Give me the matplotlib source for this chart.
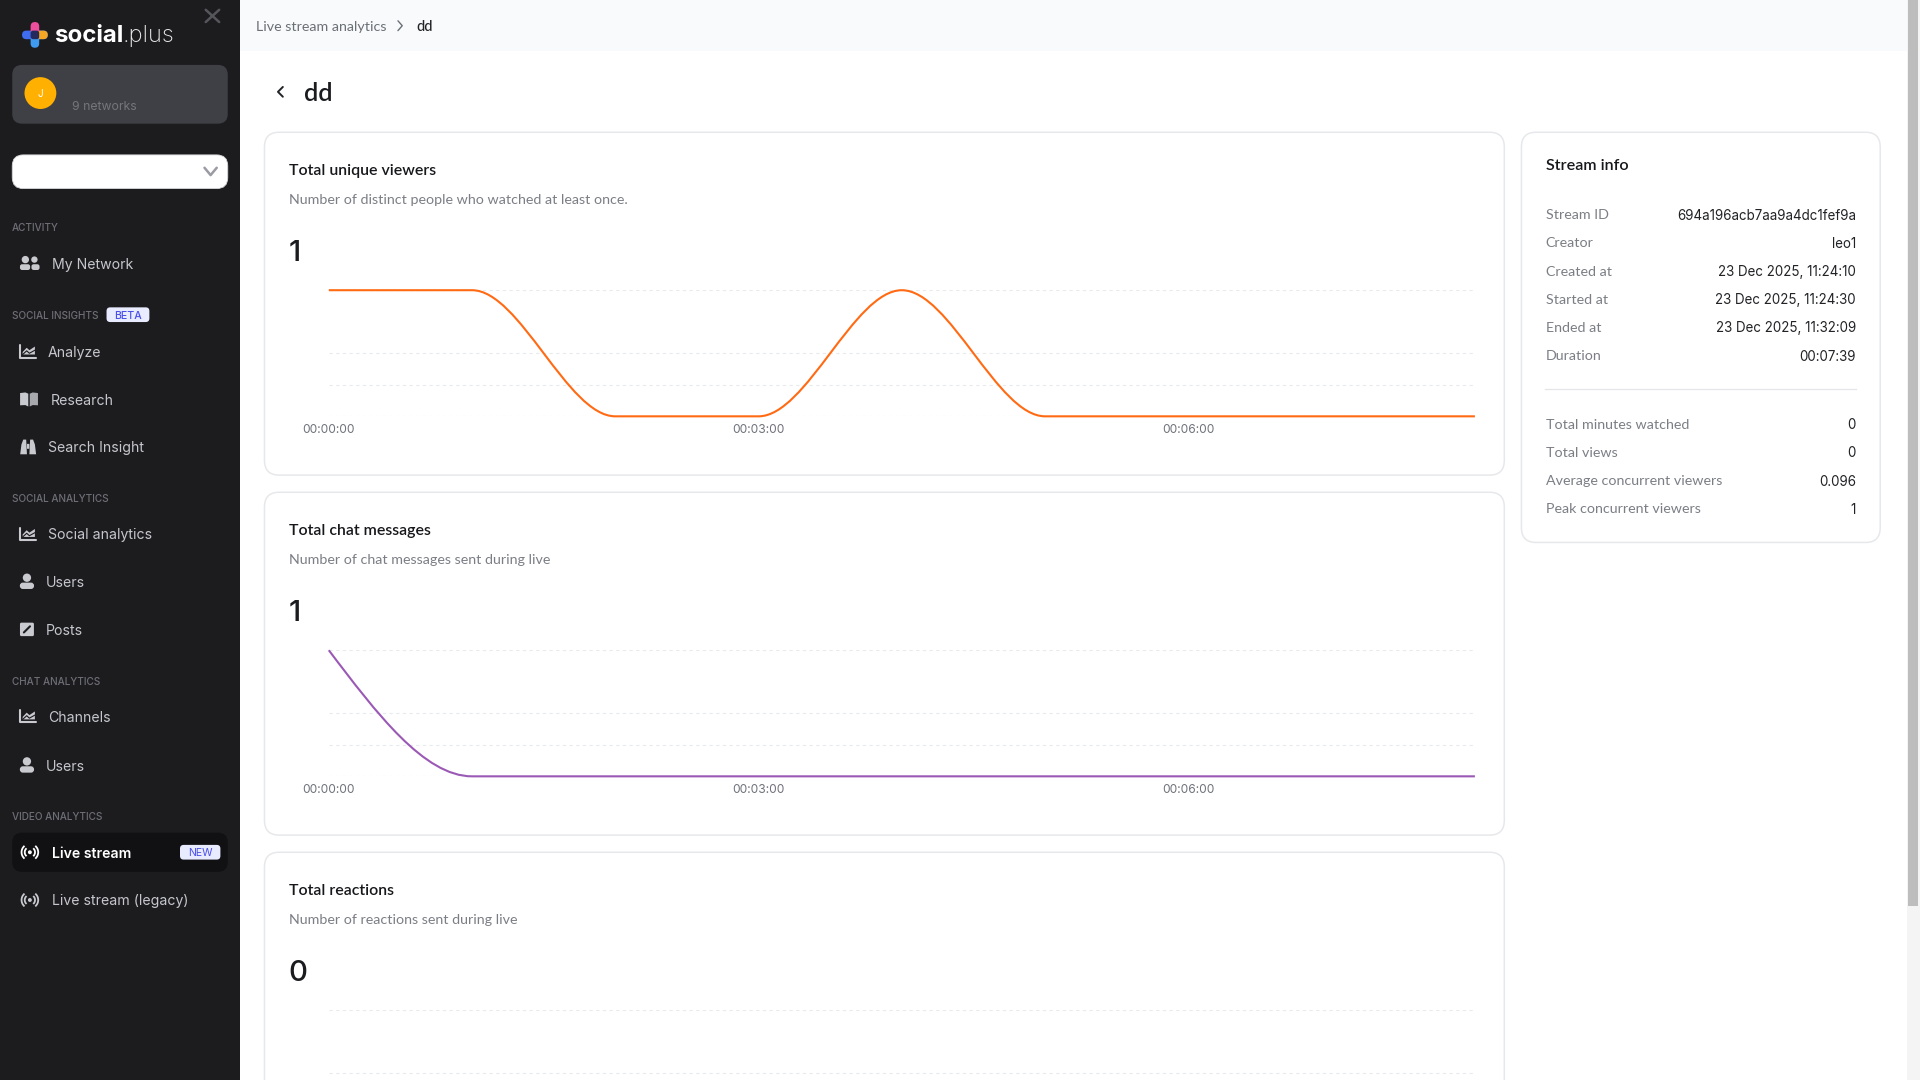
import matplotlib
matplotlib.use('Agg')
import matplotlib.pyplot as plt
from matplotlib.patches import FancyBboxPatch, Circle, Rectangle, PathPatch, Arc, Polygon
from matplotlib.path import Path

# ---------------------------------------------------------------------
# Data
# ---------------------------------------------------------------------
elapsed_s = [0, 60, 120, 180, 240, 300, 360, 420, 480]
viewers = [1, 1, 0, 0, 1, 0, 0, 0, 0]
chat_messages = [1, 0, 0, 0, 0, 0, 0, 0, 0]
reactions = [0, 0, 0, 0, 0, 0, 0, 0, 0]

tick_pos = [0, 180, 360]
tick_labels = ['00:00:00', '00:03:00', '00:06:00']
grid_levels = [0, 0.25, 0.5, 1]

card_titles = ['Total unique viewers', 'Total chat messages', 'Total reactions']
card_subtitles = ['Number of distinct people who watched at least once.',
                  'Number of chat messages sent during live',
                  'Number of reactions sent during live']
card_totals = ['1', '1', '0']

info_labels = ['Stream ID', 'Creator', 'Created at', 'Started at', 'Ended at', 'Duration']
info_values = ['694a196acb7aa9a4dc1fef9a', 'leo1', '23 Dec 2025, 11:24:10',
               '23 Dec 2025, 11:24:30', '23 Dec 2025, 11:32:09', '00:07:39']
stat_labels = ['Total minutes watched', 'Total views', 'Average concurrent viewers',
               'Peak concurrent viewers']
stat_values = ['0', '0', '0.096', '1']

# ---------------------------------------------------------------------
# Page coordinates: the layout is measured on a 1568 x 882 grid
# ---------------------------------------------------------------------
W, H = 1568, 882
SIDE = ['Inter', 'DejaVu Sans']
MAIN = ['Lato', 'DejaVu Sans']
DARK = '#1c1c1f'


def fs(px):
    return px * (1920 / W) * 72 / 100


fig = plt.figure(figsize=(19.2, 10.8), dpi=100, facecolor='white')
page = fig.add_axes([0, 0, 1, 1], zorder=0)
page.set_xlim(0, W)
page.set_ylim(H, 0)
page.axis('off')


def box(x0, y0, x1, y1, r, fc, ec='none', lw=0, z=1):
    page.add_patch(FancyBboxPatch((x0, y0), x1 - x0, y1 - y0,
                                  boxstyle=f'round,pad=0,rounding_size={r}',
                                  fc=fc, ec=ec, lw=lw, zorder=z))


def label(x, y, s, size, color, family=MAIN, weight='normal', ha='left'):
    page.text(x, y, s, fontsize=fs(size), color=color, family=family,
              weight=weight, ha=ha, va='center_baseline', zorder=5)


def stroke(xs, ys, color, lw=1.2, z=4):
    page.plot(xs, ys, color=color, lw=lw, solid_capstyle='round',
              solid_joinstyle='round', zorder=z)


# ---------------------------------------------------------------------
# Sidebar
# ---------------------------------------------------------------------
page.add_patch(Rectangle((0, 0), 196, H, fc=DARK, ec='none', zorder=1))
page.add_patch(Rectangle((196, 0), 1361, 42, fc='#f9fafb', ec='none', zorder=1))

# logo
box(18, 25, 39, 32, 3.5, '#3f6cf0', z=3)
box(29, 25, 39, 32, 3.5, '#f5a623', z=3)
box(25, 18, 32, 28, 3.5, '#ee4f9c', z=3)
box(25, 29, 32, 39, 3.5, '#3f9bf0', z=3)
box(25, 25, 32, 32, 2, '#252a5c', z=4)
label(44, 27, 'social', 19.6, 'white', SIDE, weight='bold')
label(100.5, 27, '.plus', 19.3, '#e8e8e8', SIDE, weight='light')
stroke([168, 179], [8, 18], '#55565b', 1.8)
stroke([179, 168], [8, 18], '#55565b', 1.8)

# account and network selector
box(10, 53, 186, 101, 8, '#3f4045', z=2)
page.add_patch(Circle((33, 76), 13, fc='#ffb000', ec='none', zorder=3))
label(33, 76, 'J', 8, 'white', SIDE, ha='center')
label(58.5, 86, '9 networks', 10, '#75767c', SIDE)
box(10, 126.5, 186, 154, 9, 'white', ec='#d5d6da', lw=0.6, z=2)
stroke([167, 172, 177], [137, 143, 137], '#9a9ba3', 1.8)

section_labels = [(185, 'ACTIVITY'), (257, 'SOCIAL INSIGHTS'), (407, 'SOCIAL ANALYTICS'),
                  (556, 'CHAT ANALYTICS'), (666, 'VIDEO ANALYTICS')]
for y, s in section_labels:
    label(10, y, s, 8.2, '#6e6f76', SIDE, weight='medium')

box(87, 251, 122, 263, 3, '#e9ebff', z=2)
label(104.5, 257, 'BETA', 8.6, '#4a50e8', SIDE, ha='center', weight='medium')

ICON = '#c9cacf'


def icon_people(y):
    cx = 24.3
    for dx, r in ((-3.6, 3), (3.8, 2.6)):
        page.add_patch(Circle((cx + dx, y - 3), r, fc=ICON, ec='none', zorder=4))
    box(cx - 8, y + 0.8, cx + 0.3, y + 5.5, 1.8, ICON, z=4)
    box(cx + 1.4, y + 0.8, cx + 8, y + 5.5, 1.8, ICON, z=4)


def icon_user(y):
    cx = 22
    page.add_patch(Circle((cx, y - 3.2), 3.4, fc=ICON, ec='none', zorder=4))
    box(cx - 5.8, y + 0.8, cx + 5.8, y + 6, 2.5, ICON, z=4)


def icon_chart(y):
    cx = 23
    stroke([cx - 6.3, cx - 6.3, cx + 6.5], [y - 5, y + 5, y + 5], ICON, 1.5)
    page.add_patch(Polygon([(cx - 4.5, y + 2.5), (cx - 4.5, y + 0.5), (cx - 1.2, y - 3), (cx + 1, y - 1),
                            (cx + 5.5, y - 4), (cx + 5.5, y + 2.5)], fc=ICON, ec='none', zorder=4))
    stroke([cx - 4.5, cx - 1.2, cx + 1, cx + 5.5], [y + 2.5, y - 0.5, y + 1.5, y - 1], DARK, 0.8, z=5)


def icon_book(y):
    cx = 23.7
    page.add_patch(Polygon([(cx - 7.3, y - 5), (cx - 3, y - 5.5), (cx - 0.6, y - 4.5), (cx - 0.6, y + 6),
                            (cx - 3, y + 4.8), (cx - 7.3, y + 5)], fc=ICON, ec='none', zorder=4))
    page.add_patch(Polygon([(cx + 7.3, y - 5), (cx + 3, y - 5.5), (cx + 0.6, y - 4.5), (cx + 0.6, y + 6),
                            (cx + 3, y + 4.8), (cx + 7.3, y + 5)], fc='#a8a9ae', ec='none', zorder=4))


def icon_binoculars(y):
    cx = 23
    page.add_patch(Polygon([(cx - 6.5, y + 6), (cx - 5.5, y - 2), (cx - 4, y - 6), (cx - 1.6, y - 6),
                            (cx - 1, y + 6)], fc=ICON, ec='none', zorder=4))
    page.add_patch(Polygon([(cx + 6.5, y + 6), (cx + 5.5, y - 2), (cx + 4, y - 6), (cx + 1.6, y - 6),
                            (cx + 1, y + 6)], fc=ICON, ec='none', zorder=4))
    box(cx - 1, y - 2.5, cx + 1, y + 1.5, 0.3, ICON, z=4)


def icon_edit(y):
    cx = 22
    box(cx - 5.7, y - 5.5, cx + 5.7, y + 5.5, 1.2, ICON, z=4)
    stroke([cx - 2.5, cx + 2.5], [y + 2.5, y - 2.5], DARK, 1.5, z=5)


def icon_live(y, color=ICON):
    cx = 24.4
    page.add_patch(Circle((cx, y), 1.6, fc=color, ec='none', zorder=4))
    for r in (4.2, 6.8):
        page.add_patch(Arc((cx, y), 2 * r, 2 * r, theta1=-50, theta2=50, ec=color, lw=1.3, zorder=4))
        page.add_patch(Arc((cx, y), 2 * r, 2 * r, theta1=130, theta2=230, ec=color, lw=1.3, zorder=4))


nav_items = [(42, 215, 'My Network', icon_people), (39, 287, 'Analyze', icon_chart),
             (41, 326, 'Research', icon_book), (39, 365, 'Search Insight', icon_binoculars),
             (39, 436, 'Social analytics', icon_chart), (37, 475, 'Users', icon_user),
             (37, 514, 'Posts', icon_edit), (39, 585, 'Channels', icon_chart),
             (37, 625, 'Users', icon_user), (42, 735, 'Live stream (legacy)', icon_live)]
for x, y, s, icon in nav_items:
    icon(y)
    label(x + 0.3, y, s, 11.5, '#c6c7cc', SIDE)

box(10, 680, 186, 712, 8, '#111113', z=2)
icon_live(696, 'white')
label(42.3, 696, 'Live stream', 11.5, 'white', SIDE, weight='semibold')
box(147, 690, 180, 702, 3, '#e9ebff', z=3)
label(163.5, 696, 'NEW', 8.6, '#4a50e8', SIDE, ha='center')

# ---------------------------------------------------------------------
# Header
# ---------------------------------------------------------------------
label(209, 21, 'Live stream analytics', 11.6, '#6b6f76')
stroke([325, 328.5, 325], [17, 21, 25], '#6b6f76', 1.0)
label(340, 21, 'dd', 11.9, '#222326', weight='medium')
stroke([231, 227, 231], [71, 75, 79], '#222326', 1.4)
label(248, 75, 'dd', 20.5, '#1b1c1f', weight='semibold')

# ---------------------------------------------------------------------
# Chart cards
# ---------------------------------------------------------------------
BORDER = '#e7e8eb'


def monotone_path(xs, ys):
    # same curve as d3 curveMonotoneX, built as cubic segments from the samples
    n = len(xs)
    h = [xs[i + 1] - xs[i] for i in range(n - 1)]
    s = [(ys[i + 1] - ys[i]) / h[i] for i in range(n - 1)]
    t = [0.0] * n
    for i in range(1, n - 1):
        if s[i - 1] * s[i] > 0:
            p = (s[i - 1] * h[i] + s[i] * h[i - 1]) / (h[i - 1] + h[i])
            t[i] = min(abs(s[i - 1]), abs(s[i]), 0.5 * abs(p)) * 2 * (1 if s[i] > 0 else -1)
    t[0] = (3 * s[0] - t[1]) / 2
    t[-1] = (3 * s[-1] - t[-2]) / 2
    verts = [(xs[0], ys[0])]
    codes = [Path.MOVETO]
    for i in range(n - 1):
        d = h[i] / 3
        verts += [(xs[i] + d, ys[i] + d * t[i]), (xs[i + 1] - d, ys[i + 1] - d * t[i + 1]),
                  (xs[i + 1], ys[i + 1])]
        codes += [Path.CURVE4] * 3
    return Path(verts, codes)


def chart_card(top, title, subtitle, total, values, color):
    box(216, top, 1228.5, top + 280, 12, 'white', ec=BORDER, lw=1.1, z=1)
    label(236, top + 30.3, title, 13, '#17181b', weight='semibold')
    label(236, top + 54.3, subtitle, 11.6, '#7b7e85')
    label(235.5, top + 96.5, total, 24, '#1b1c1f', SIDE, weight='medium')

    # plot frame in page pixels, 0 falls on the last gridline
    left, right, y_top, y_bot = 268.5, 1204.5, top + 129, top + 232
    ax = fig.add_axes([left / W, 1 - y_bot / H, (right - left) / W, (y_bot - y_top) / H], zorder=2)
    ax.patch.set_alpha(0)
    ax.set_xlim(elapsed_s[0], elapsed_s[-1])
    ax.set_ylim(0, 1)
    for side in ax.spines.values():
        side.set_visible(False)
    ax.set_yticks([])
    ax.set_xticks(tick_pos)
    # the third card runs past the fold, its axis labels are not on screen
    ax.set_xticklabels(tick_labels if y_bot < H else [], fontsize=fs(9.8), color='#6f727a', family=SIDE)
    ax.tick_params(axis='x', length=0, pad=5.5)
    for level in grid_levels:
        ax.axhline(level, color='#e9eaed', lw=0.8, dashes=(3, 3), zorder=1)
    ax.add_patch(PathPatch(monotone_path(elapsed_s, values), fc='none', ec=color, lw=1.5,
                           capstyle='butt', clip_on=False, zorder=3))


chart_card(108, card_titles[0], card_subtitles[0], card_totals[0], viewers, '#ff6a13')
chart_card(402, card_titles[1], card_subtitles[1], card_totals[1], chat_messages, '#9b59b6')
chart_card(696, card_titles[2], card_subtitles[2], card_totals[2], reactions, '#2f7de1')

# ---------------------------------------------------------------------
# Stream info card
# ---------------------------------------------------------------------
box(1242.5, 108, 1535.5, 443, 12, 'white', ec=BORDER, lw=1.1, z=1)
label(1262.3, 134.3, 'Stream info', 13.2, '#17181b', weight='semibold')
for i, (k, v) in enumerate(zip(info_labels, info_values)):
    label(1262.3, 175 + 23 * i, k, 11.6, '#7b7e85')
    label(1515.6, 175 + 23 * i, v, 10.9, '#222326', SIDE, ha='right')
page.plot([1262, 1515.5], [318, 318], color='#e4e5e8', lw=0.9, zorder=3)
for i, (k, v) in enumerate(zip(stat_labels, stat_values)):
    label(1262.3, 346 + 23 * i, k, 11.6, '#7b7e85')
    label(1515.6, 346 + 23 * i, v, 10.9, '#222326', SIDE, ha='right')

# scrollbar
page.add_patch(Rectangle((1557, 0), 11, H, fc='#f4f4f4', ec='none', zorder=1))
page.add_patch(Rectangle((1558.5, 0), 7.5, 740, fc='#bdbdbd', ec='none', zorder=2))

fig.savefig('out.png', dpi=100)
